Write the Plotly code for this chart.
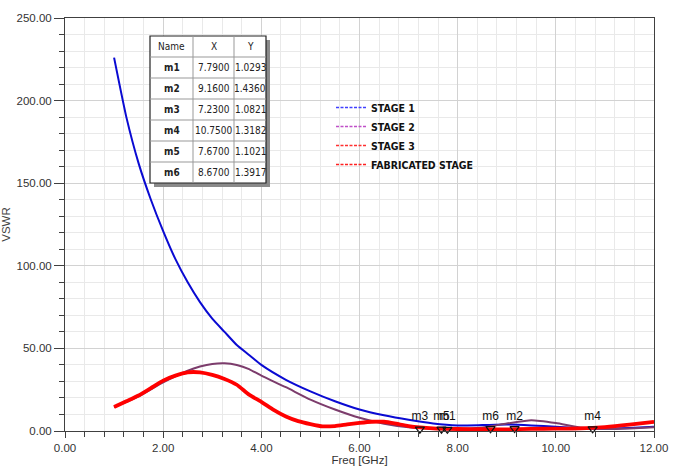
import plotly.graph_objects as go

# ---------------- data ----------------
freq_stage1 = [1.0, 1.25, 1.5, 1.75, 2.0, 2.25, 2.5, 2.75, 3.0, 3.25, 3.5, 3.75, 4.0, 4.5, 5.0,
               5.5, 6.0, 6.5, 7.0, 7.5, 8.0, 8.5, 9.0, 9.5, 10.0, 10.5, 11.0, 11.5, 12.0]
vswr_stage1 = [226, 190, 162, 140, 121, 104, 90, 78, 68, 60, 52, 46, 40, 31, 24,
               18, 13, 9.5, 6.8, 4.6, 3.4, 3.6, 3.9, 3.4, 2.6, 1.7, 1.3, 1.8, 2.6]

freq_stage2 = [1.0, 1.5, 2.0, 2.5, 2.75, 3.0, 3.25, 3.5, 3.75, 4.0, 4.5, 5.0, 5.5, 6.0, 6.5,
               7.0, 7.5, 8.0, 8.5, 9.0, 9.5, 10.0, 10.5, 11.0, 11.5, 12.0]
vswr_stage2 = [14.5, 21, 29.5, 36.5, 39, 40.6, 41, 40, 37.5, 33.5, 26.5, 19, 13, 8, 4.4,
               2.2, 1.3, 1.2, 2.2, 4.5, 6.5, 4.8, 2.2, 1.2, 1.5, 2.2]

freq_fab = [1.0, 1.25, 1.5, 1.75, 2.0, 2.25, 2.5, 2.75, 3.0, 3.25, 3.5, 3.75, 4.0, 4.25, 4.5,
            4.75, 5.0, 5.25, 5.5, 5.75, 6.0, 6.25, 6.5, 6.75, 7.0, 7.5, 8.0, 8.5, 9.0, 9.5,
            10.0, 10.5, 11.0, 11.5, 12.0]
vswr_fab = [14.5, 18, 21.5, 26, 30.5, 33.5, 35.5, 35.5, 34, 31.5, 28, 22, 17.7, 12.8, 8.8,
            6, 4.2, 2.8, 3.0, 4.0, 4.9, 5.6, 5.6, 4.4, 3.0, 1.6, 1.2, 1.1, 1.0, 1.3,
            1.4, 1.6, 2.4, 3.8, 5.5]

# STAGE 3 lies under the fabricated curve in the reference
freq_stage3 = freq_fab
vswr_stage3 = vswr_fab

series_names = ["STAGE 1", "STAGE 2", "STAGE 3", "FABRICATED STAGE"]

marker_names = ["m1", "m2", "m3", "m4", "m5", "m6"]
marker_x = [7.79, 9.16, 7.23, 10.75, 7.67, 8.67]
marker_y = [1.0293, 1.4360, 1.0821, 1.3182, 1.1021, 1.3917]

x_ticks = [0, 2, 4, 6, 8, 10, 12]
y_ticks = [0, 50, 100, 150, 200, 250]

# ---------------- layout helpers ----------------
W, H = 680, 466
ML, MR, MT, MB = 65, 26, 18, 35
PW, PH = W - ML - MR, H - MT - MB


def px2x(px):
    return (px - ML) / PW


def py2y(py):
    return (H - MB - py) / PH


COND = "DejaVu Sans Condensed, Liberation Sans Narrow, sans-serif"
SANS = "Liberation Sans, Arial, sans-serif"
AX = "#404040"

fig = go.Figure()

colors = ["#0a0ad2", "#7c3c6c", "#e00000", "#ff0000"]
widths = [2, 2, 1.5, 3.8]
data = [(freq_stage1, vswr_stage1), (freq_stage2, vswr_stage2),
        (freq_stage3, vswr_stage3), (freq_fab, vswr_fab)]

for (fx, fy), c, w, n in zip(data, colors, widths, series_names):
    fig.add_trace(go.Scatter(x=fx, y=fy, mode="lines", name=n, showlegend=False,
                             line=dict(color=c, width=w, shape="spline", smoothing=0.5)))

legend_colors = ["#4040ff", "#c050c8", "#ff3030", "#ff2020"]
for c, n in zip(legend_colors, series_names):
    fig.add_trace(go.Scatter(x=[None], y=[None], mode="lines", name=n,
                             line=dict(color=c, width=1.3, dash="3px,1.5px")))

fig.add_trace(go.Scatter(
    x=marker_x, y=marker_y, mode="markers+text", text=marker_names,
    textposition="top center", showlegend=False, cliponaxis=False,
    marker=dict(symbol="triangle-down-open", size=8, color="#111",
                line=dict(width=1.2, color="#111")),
    textfont=dict(family=SANS, size=12, color="#111")))

# ---------------- marker table ----------------
col_px = [150, 193, 234, 266]
row_py = [36, 57, 78, 99, 120, 141, 162, 183]
shapes = []
shapes.append(dict(type="rect", xref="paper", yref="paper",
                   x0=px2x(col_px[0] + 4), x1=px2x(col_px[-1] + 4),
                   y0=py2y(row_py[-1] + 4), y1=py2y(row_py[0] + 4),
                   fillcolor="#8a8a8a", line=dict(width=0), layer="above"))
shapes.append(dict(type="rect", xref="paper", yref="paper",
                   x0=px2x(col_px[0]), x1=px2x(col_px[-1]),
                   y0=py2y(row_py[-1]), y1=py2y(row_py[0]),
                   fillcolor="white", line=dict(width=1.2, color="#222"), layer="above"))
for r in row_py[1:-1]:
    shapes.append(dict(type="line", xref="paper", yref="paper",
                       x0=px2x(col_px[0]), x1=px2x(col_px[-1]), y0=py2y(r), y1=py2y(r),
                       line=dict(width=1, color="#999"), layer="above"))
for c in col_px[1:-1]:
    shapes.append(dict(type="line", xref="paper", yref="paper",
                       x0=px2x(c), x1=px2x(c), y0=py2y(row_py[-1]), y1=py2y(row_py[0]),
                       line=dict(width=1, color="#999"), layer="above"))

annotations = []
header = ["Name", "X", "Y"]
rows = [[n, f"{x:.4f}", f"{y:.4f}"] for n, x, y in zip(marker_names, marker_x, marker_y)]
for ri, row in enumerate([header] + rows):
    yc = py2y((row_py[ri] + row_py[ri + 1]) / 2)
    for ci, txt in enumerate(row):
        xc = px2x((col_px[ci] + col_px[ci + 1]) / 2)
        bold = ri > 0 and ci == 0
        annotations.append(dict(
            x=xc, y=yc, xref="paper", yref="paper", text=txt, showarrow=False,
            xanchor="center", yanchor="middle",
            font=dict(family=COND, size=10, color="#222",
                      weight="bold" if bold else "normal")))

fig.update_layout(
    width=W, height=H,
    margin=dict(l=ML, r=MR, t=MT, b=MB, autoexpand=False),
    paper_bgcolor="white", plot_bgcolor="white",
    shapes=shapes, annotations=annotations,
    legend=dict(x=px2x(331), y=py2y(93), xanchor="left", yanchor="top",
                bgcolor="rgba(0,0,0,0)", borderwidth=0, itemwidth=30,
                tracegroupgap=0,
                font=dict(family=COND, size=10.5, color="#111", weight="bold")),
    xaxis=dict(range=[0, 12], tickvals=x_ticks, tickformat=".2f",
               ticks="outside", ticklen=6, tickcolor=AX, tickwidth=1,
               showline=True, linecolor=AX, linewidth=1, mirror=True,
               showgrid=True, gridcolor="#d2d2d2", gridwidth=1, zeroline=False,
               minor=dict(dtick=0.4, ticks="outside", ticklen=5, tickcolor=AX,
                          showgrid=True, gridcolor="#e9e9e9", gridwidth=1),
               tickfont=dict(family=SANS, size=11.5, color="#333"),
               title=dict(text="Freq [GHz]", standoff=2,
                          font=dict(family=SANS, size=11.5, color="#333"))),
    yaxis=dict(range=[0, 250], tickvals=y_ticks, tickformat=".2f",
               ticks="outside", ticklen=10, tickcolor=AX, tickwidth=1,
               showline=True, linecolor=AX, linewidth=1, mirror=True,
               showgrid=True, gridcolor="#d2d2d2", gridwidth=1, zeroline=False,
               minor=dict(dtick=10, ticks="outside", ticklen=5, tickcolor=AX,
                          showgrid=True, gridcolor="#e9e9e9", gridwidth=1),
               tickfont=dict(family=SANS, size=11.5, color="#333"),
               title=dict(text="VSWR", standoff=8,
                          font=dict(family=SANS, size=11.5, color="#444"))),
)

fig.write_html("out.html", config={"displayModeBar": False},
               post_script="document.body.style.margin='0';document.body.style.overflow='hidden';")
